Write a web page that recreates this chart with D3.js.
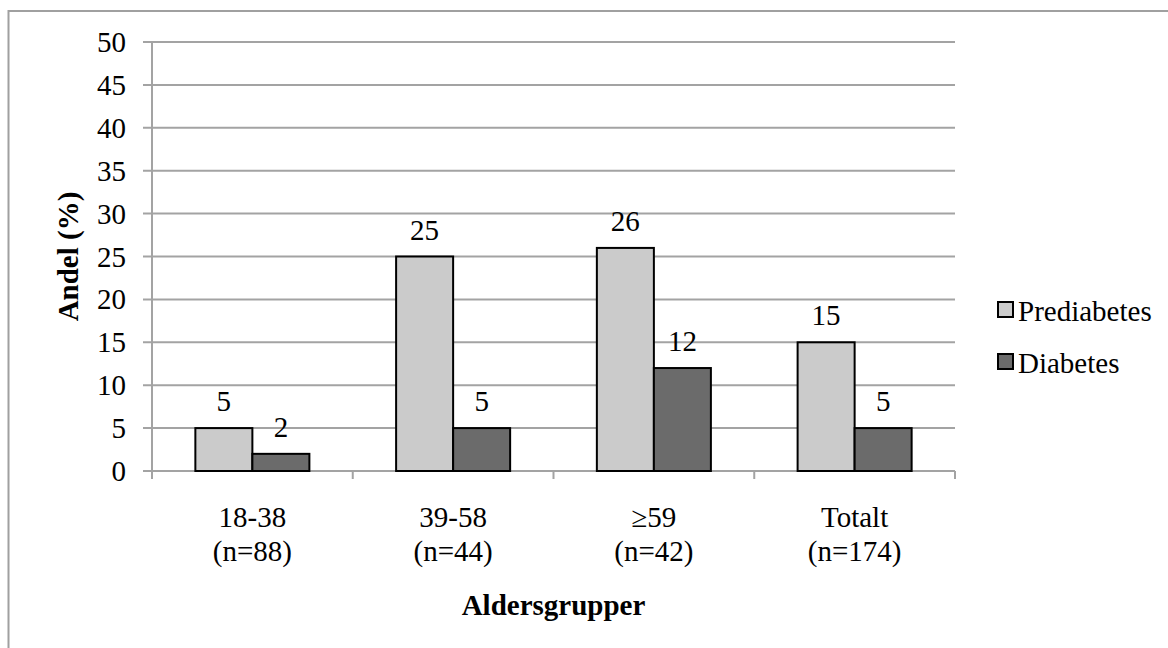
<!DOCTYPE html>
<html>
<head>
<meta charset="utf-8">
<script src="https://cdn.jsdelivr.net/npm/d3@7"></script>
<style>
  body { margin: 0; background: #fff; }
</style>
</head>
<body>
<script>
let width = 1168;
let height = 648;

// data
let categories = ["18-38", "39-58", "\u226559", "Totalt"];
let sizes = ["(n=88)", "(n=44)", "(n=42)", "(n=174)"];
let seriesNames = ["Prediabetes", "Diabetes"];
let prediabetes = [5, 25, 26, 15];
let diabetes = [2, 5, 12, 5];
let yTicks = [0, 5, 10, 15, 20, 25, 30, 35, 40, 45, 50];

let colors = ["#cbcbcb", "#6b6b6b"];
let fontSize = 29;

let svg = d3.select("body")
    .append("svg")
    .attr("width", width)
    .attr("height", height)
    .style("font-family", "'Liberation Serif', 'Times New Roman', serif");

// outer frame
svg.append("rect")
    .attr("x", 8.5)
    .attr("y", 11)
    .attr("width", 1200)
    .attr("height", 700)
    .attr("fill", "none")
    .attr("stroke", "#a0a0a0")
    .attr("stroke-width", 2);

let plotLeft = 152, plotRight = 955, plotTop = 42, plotBottom = 471;

let x = d3.scaleBand()
    .domain(categories)
    .range([plotLeft, plotRight])
    .padding(0);

let y = d3.scaleLinear()
    .domain([0, 50])
    .range([plotBottom, plotTop]);

let barW = x.bandwidth() * 0.284;
let offset = (x.bandwidth() - 2 * barW) / 2;

// gridlines + y ticks
svg.append("g")
    .attr("class", "grid")
    .selectAll("line")
    .data(yTicks)
    .enter().append("line")
        .attr("x1", plotLeft - 9)
        .attr("x2", plotRight)
        .attr("y1", d => y(d))
        .attr("y2", d => y(d))
        .attr("stroke", "#a3a3a3")
        .attr("stroke-width", 2);

svg.append("g")
    .selectAll("text")
    .data(yTicks)
    .enter().append("text")
        .attr("x", 126)
        .attr("y", d => y(d) + 10)
        .attr("text-anchor", "end")
        .attr("font-size", fontSize)
        .text(d => d);

// y axis line
svg.append("line")
    .attr("x1", plotLeft).attr("x2", plotLeft)
    .attr("y1", plotTop).attr("y2", plotBottom + 8)
    .attr("stroke", "#a3a3a3")
    .attr("stroke-width", 2);

// category tick marks
svg.append("g")
    .selectAll("line")
    .data(categories)
    .enter().append("line")
        .attr("x1", d => x(d) + x.bandwidth())
        .attr("x2", d => x(d) + x.bandwidth())
        .attr("y1", plotBottom)
        .attr("y2", plotBottom + 8)
        .attr("stroke", "#a3a3a3")
        .attr("stroke-width", 2);

// bars
let series = [prediabetes, diabetes];
series.forEach(function(vals, s) {
    let g = svg.append("g").attr("class", "series-" + s);
    g.selectAll("rect")
        .data(vals)
        .enter().append("rect")
            .attr("x", (d, i) => x(categories[i]) + offset + s * barW)
            .attr("y", d => y(d))
            .attr("width", barW)
            .attr("height", d => plotBottom - y(d))
            .attr("fill", colors[s])
            .attr("stroke", "#000")
            .attr("stroke-width", 2);
    g.selectAll("text")
        .data(vals)
        .enter().append("text")
            .attr("x", (d, i) => x(categories[i]) + offset + s * barW + barW / 2)
            .attr("y", d => y(d) - 17)
            .attr("text-anchor", "middle")
            .attr("font-size", fontSize)
            .text(d => d);
});

// category labels
let catLabels = svg.append("g");
categories.forEach(function(c, i) {
    let cx = x(c) + x.bandwidth() / 2;
    catLabels.append("text")
        .attr("x", cx).attr("y", 527)
        .attr("text-anchor", "middle")
        .attr("font-size", fontSize)
        .text(c);
    catLabels.append("text")
        .attr("x", cx).attr("y", 561)
        .attr("text-anchor", "middle")
        .attr("font-size", fontSize)
        .text(sizes[i]);
});

// axis titles
svg.append("text")
    .attr("x", (plotLeft + plotRight) / 2)
    .attr("y", 615)
    .attr("text-anchor", "middle")
    .attr("font-size", fontSize)
    .attr("font-weight", "bold")
    .text("Aldersgrupper");

svg.append("text")
    .attr("transform", "translate(78," + ((plotTop + plotBottom) / 2) + ") rotate(-90)")
    .attr("text-anchor", "middle")
    .attr("font-size", fontSize)
    .attr("font-weight", "bold")
    .text("Andel (%)");

// legend
let legendY = [302, 354];
let legend = svg.append("g");
seriesNames.forEach(function(name, i) {
    legend.append("rect")
        .attr("x", 998)
        .attr("y", legendY[i])
        .attr("width", 15)
        .attr("height", 15)
        .attr("fill", colors[i])
        .attr("stroke", "#000")
        .attr("stroke-width", 2);
    legend.append("text")
        .attr("x", 1018)
        .attr("y", legendY[i] + 19)
        .attr("font-size", fontSize)
        .text(name);
});
</script>
</body>
</html>
